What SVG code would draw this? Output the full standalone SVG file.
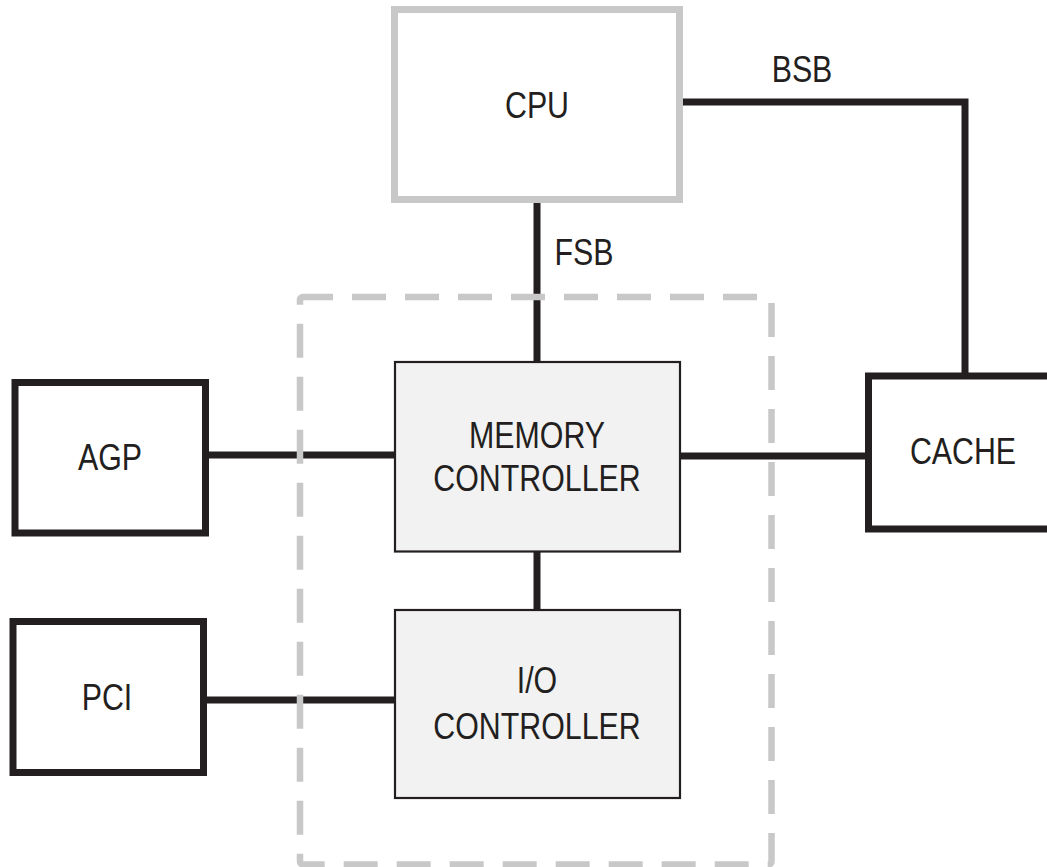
<svg xmlns="http://www.w3.org/2000/svg" width="1047" height="867" viewBox="0 0 1047 867">
<style>
.lbl{font-family:"Liberation Sans",Arial,sans-serif;font-size:37px;fill:#231f20;text-anchor:middle}
.bus{stroke:#231f20;stroke-width:7;fill:none}
.thick{fill:#fff;stroke:#231f20;stroke-width:7}
.chip{fill:#f2f2f2;stroke:#231f20;stroke-width:2.2}
</style>
<rect width="1047" height="867" fill="#fff"/>
<g id="connectors">
<line class="bus" x1="537" y1="200" x2="537" y2="362"/>
<path class="bus" d="M680,102 H965 V374"/>
<line class="bus" x1="205" y1="455" x2="395" y2="455"/>
<line class="bus" x1="679" y1="456" x2="867" y2="456"/>
<line class="bus" x1="537" y1="551" x2="537" y2="610"/>
<line class="bus" x1="205" y1="700" x2="395" y2="700" stroke-width="8"/>
</g>
<g id="chipset">
<rect x="300" y="297" width="471.5" height="567.5" rx="3" fill="none" stroke="#c8c8c8" stroke-width="6.5" stroke-dasharray="34 19" stroke-dashoffset="4"/>
</g>
<g id="cpu">
<rect x="394.5" y="9.5" width="285" height="190" fill="#fff" stroke="#c8c8c8" stroke-width="7"/>
<text class="lbl" transform="translate(537 118) scale(0.82 1)">CPU</text>
</g>
<g id="bsb-label"><text class="lbl" transform="translate(802 81.5) scale(0.82 1)">BSB</text></g>
<g id="fsb-label"><text class="lbl" transform="translate(584 265) scale(0.82 1)">FSB</text></g>
<g id="memory-controller">
<rect class="chip" x="395" y="362" width="285" height="189.5"/>
<text class="lbl" transform="translate(537 447.5) scale(0.82 1)">MEMORY</text>
<text class="lbl" transform="translate(537 490.5) scale(0.82 1)">CONTROLLER</text>
</g>
<g id="io-controller">
<rect class="chip" x="395" y="610" width="285" height="188"/>
<text class="lbl" transform="translate(537 692.5) scale(0.82 1)">I/O</text>
<text class="lbl" transform="translate(537 739) scale(0.82 1)">CONTROLLER</text>
</g>
<g id="agp">
<rect class="thick" x="15" y="382.5" width="190.5" height="150.5"/>
<text class="lbl" transform="translate(110 470) scale(0.82 1)">AGP</text>
</g>
<g id="pci">
<rect class="thick" x="13" y="621.5" width="190.5" height="151"/>
<text class="lbl" transform="translate(107 710) scale(0.82 1)">PCI</text>
</g>
<g id="cache">
<rect class="thick" x="868.5" y="376" width="200" height="153"/>
<text class="lbl" transform="translate(963 464) scale(0.82 1)">CACHE</text>
</g>
</svg>
